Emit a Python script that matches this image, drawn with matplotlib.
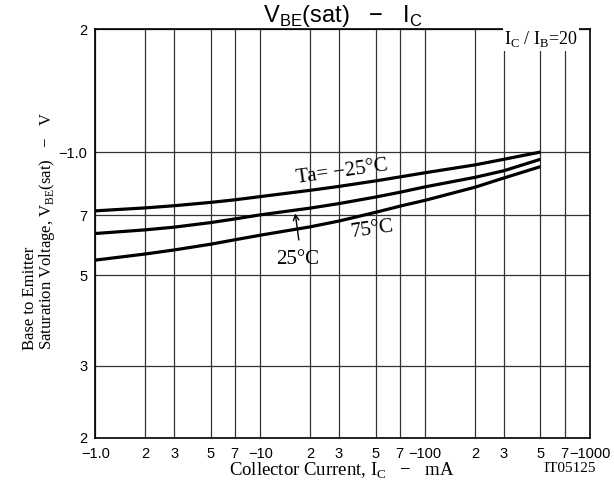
import matplotlib.pyplot as plt
from matplotlib.ticker import FixedLocator, FixedFormatter, NullLocator

plt.rcParams['mathtext.fontset'] = 'custom'
plt.rcParams['mathtext.rm'] = 'Liberation Serif'
plt.rcParams['mathtext.sf'] = 'Liberation Sans'

# --- DATA ---
ic_ma = [1, 2, 3, 5, 7, 10, 20, 30, 50, 70, 100, 200, 300, 500]
vbe_m25 = [0.718, 0.730, 0.739, 0.753, 0.764, 0.778, 0.806, 0.824, 0.850, 0.869, 0.890, 0.930, 0.960, 1.0]
vbe_25 = [0.632, 0.645, 0.655, 0.672, 0.686, 0.702, 0.729, 0.748, 0.776, 0.797, 0.822, 0.867, 0.900, 0.960]
vbe_75 = [0.544, 0.563, 0.576, 0.595, 0.610, 0.626, 0.656, 0.678, 0.712, 0.737, 0.762, 0.820, 0.864, 0.921]

x_ticks = [1, 2, 3, 5, 7, 10, 20, 30, 50, 70, 100, 200, 300, 500, 700, 1000]
x_labels = ['\u22121.0', '2', '3', '5', '7', '\u221210', '2', '3', '5', '7',
            '\u2212100', '2', '3', '5', '7', '\u22121000']
y_ticks = [0.2, 0.3, 0.5, 0.7, 1.0, 2.0]
y_labels = ['2', '3', '5', '7', '\u22121.0', '2']

fig = plt.figure(figsize=(6.14, 4.9), dpi=100)
ax = fig.add_axes([0.1555, 0.1067, 0.8055, 0.8341])

for v in (vbe_m25, vbe_25, vbe_75):
    ax.plot(ic_ma, v, color='black', lw=2.3, solid_capstyle='butt', solid_joinstyle='round')

ax.set_xscale('log')
ax.set_yscale('log')
ax.set_xlim(1, 1000)
ax.set_ylim(0.2, 2.0)

ax.xaxis.set_major_locator(FixedLocator(x_ticks))
ax.xaxis.set_major_formatter(FixedFormatter(x_labels))
ax.xaxis.set_minor_locator(NullLocator())
ax.yaxis.set_major_locator(FixedLocator(y_ticks))
ax.yaxis.set_major_formatter(FixedFormatter(y_labels))
ax.yaxis.set_minor_locator(NullLocator())
ax.tick_params(length=0, labelsize=10.5)
ax.tick_params(axis='x', pad=6.5)
ax.tick_params(axis='y', pad=6)
for lab in ax.get_xticklabels() + ax.get_yticklabels():
    lab.set_family('Liberation Sans')

ax.grid(True, color='#333333', lw=0.9)
for s in ax.spines.values():
    s.set_linewidth(1.2)

ax.set_title('V$_{\\mathsf{BE}}$(sat)   \u2212   I$_{\\mathsf{C}}$', family='Liberation Sans',
             fontsize=17, pad=1)

ax.text(0.901, 0.975, 'I$_{\\mathrm{C}}$ / I$_{\\mathrm{B}}$=20', transform=ax.transAxes,
        family='Liberation Serif', fontsize=13, ha='center', va='center',
        bbox=dict(facecolor='white', edgecolor='none', pad=1))

ax.text(31.5, 0.893, 'Ta= \u221225\u00b0C', family='Liberation Serif', fontsize=15,
        ha='center', va='center', rotation=8)
ax.text(48, 0.648, '75\u00b0C', family='Liberation Serif', fontsize=15,
        ha='center', va='center', rotation=8)
ax.text(16.9, 0.545, '25\u00b0C', family='Liberation Serif', fontsize=15,
        ha='center', va='center')
ax.annotate('', xy=(16.2, 0.719), xytext=(17.2, 0.600),
            arrowprops=dict(arrowstyle='->', lw=1.0, color='black'))

fig.text(0.049, 0.286, 'Base to Emitter', family='Liberation Serif', fontsize=12,
         rotation=90, ha='center', va='bottom')
fig.text(0.077, 0.286, 'Saturation Voltage, V$_{\\mathrm{BE}}$(sat)   \u2212   V',
         family='Liberation Serif', fontsize=12, rotation=90, ha='center', va='bottom')
fig.text(0.556, 0.040, 'Collector Current, I$_{\\mathrm{C}}$   \u2212   mA',
         family='Liberation Serif', fontsize=13.5, ha='center', va='center')
fig.text(0.927, 0.043, 'IT05125', family='Liberation Serif', fontsize=11,
         ha='center', va='center')

fig.savefig('out.png', dpi=100)
